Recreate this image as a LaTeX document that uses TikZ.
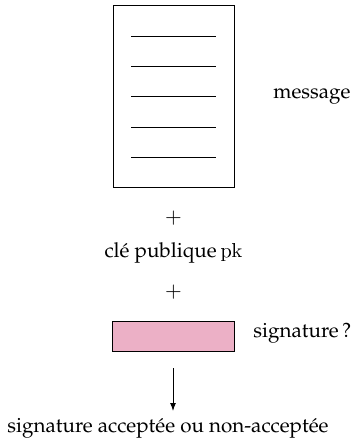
\documentclass[tikz,border=0pt]{standalone}
\usepackage[T1]{fontenc}
\usepackage{mathpazo}
\usetikzlibrary{arrows.meta}
\begin{document}
\begin{tikzpicture}[x=0.5pt,y=-0.5pt,
  doc/.style={draw, line width=0.5pt, minimum width=60.5pt, minimum height=91pt, inner sep=0pt},
  sigbox/.style={draw, line width=0.5pt, fill=sigpink, minimum width=61pt, minimum height=15pt, inner sep=0pt},
  txt/.style={inner sep=0pt, font=\fontsize{10.3}{12}\selectfont},
  rule/.style={line width=0.5pt}]
\definecolor{sigpink}{RGB}{236,176,198}
\useasboundingbox (0,0) rectangle (364,439);
% the message document
\node[doc] (msg) at (173.5,96) {};
\foreach \i/\yy in {1/36,2/66,3/96,4/127,5/157} {
  \coordinate (l\i a) at (131,\yy);
  \coordinate (l\i b) at (216,\yy);
  \draw[rule] (l\i a) -- (l\i b);
}
\node[txt, anchor=west] (msglabel) at (273,96) {message};
\node[txt] (plus1) at (173.5,218) {$+$};
\node[txt] (key) at (174,253) {cl\'e publique \texttt{pk}};
\node[txt] (plus2) at (173.5,292) {$+$};
% the signature to check
\node[sigbox] (sig) at (173,336) {};
\node[txt, anchor=west] (siglabel) at (253,333) {signature\,?};
\node[txt] (result) at (168,428) {signature accept\'ee ou non-accept\'ee};
\coordinate (arrtop) at (173,368);
\draw[-{Latex[length=4pt,width=3pt]}, line width=0.5pt] (arrtop) -- (173,411);
\end{tikzpicture}
\end{document}
